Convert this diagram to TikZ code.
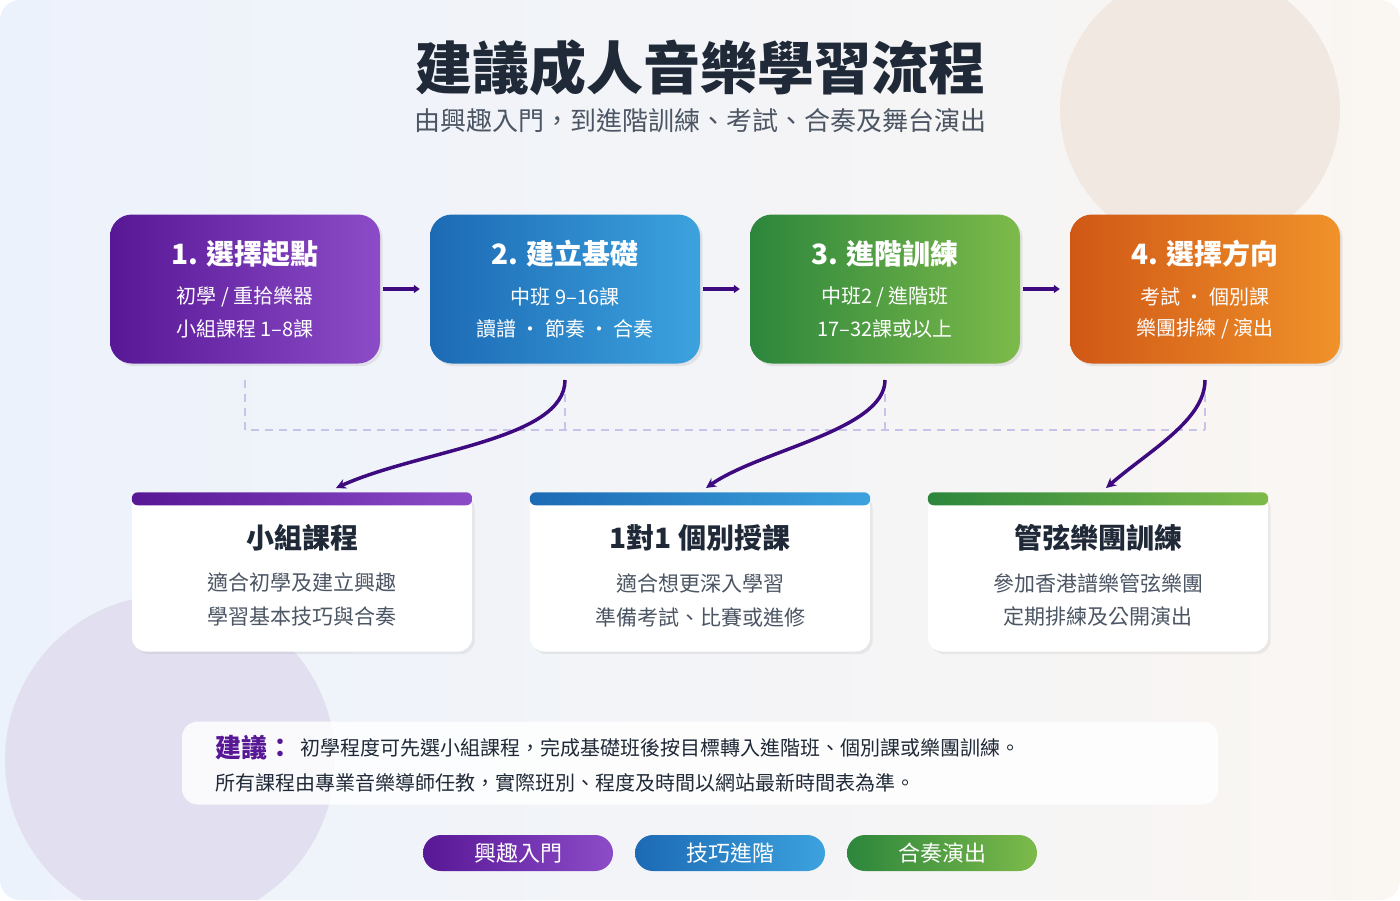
\documentclass[tikz,border=0pt]{standalone}
\usepackage{fontspec}
\setmainfont{Noto Sans CJK TC}
\usetikzlibrary{positioning,arrows.meta,shadows}
\definecolor{titledark}{RGB}{31,41,55}
\definecolor{subgray}{RGB}{75,85,99}
\definecolor{arrowpurple}{RGB}{61,10,128}
\definecolor{dashlav}{RGB}{200,195,235}
\definecolor{purpleA}{RGB}{88,24,150}
\definecolor{purpleB}{RGB}{140,76,200}
\definecolor{blueA}{RGB}{28,106,180}
\definecolor{blueB}{RGB}{60,162,222}
\definecolor{greenA}{RGB}{44,134,60}
\definecolor{greenB}{RGB}{125,186,74}
\definecolor{orangeA}{RGB}{208,88,22}
\definecolor{orangeB}{RGB}{240,146,42}
\definecolor{bgA}{RGB}{236,242,252}
\definecolor{bgB}{RGB}{250,246,242}
\definecolor{circA}{RGB}{240,232,225}
\definecolor{circB}{RGB}{226,224,240}

\begin{document}
\begin{tikzpicture}[x=1pt, y=-1pt,
        stagebox/.style={rounded corners=22pt, minimum width=270pt, minimum height=149pt, text=white, align=center, drop shadow={opacity=0.15}},
        card/.style={rounded corners=14pt, fill=white, minimum width=340pt, minimum height=159pt, align=center, drop shadow={opacity=0.12}},
        pill/.style={rounded corners=18pt, minimum width=190pt, minimum height=36pt, text=white, font=\fontsize{22}{24}\selectfont},
        link/.style={-{Triangle[length=6pt,width=8pt]}, line width=3.5pt, color=arrowpurple, shorten <=3pt, shorten >=10pt},
        curve/.style={-{Stealth[length=10pt,width=10pt]}, line width=3.5pt, color=arrowpurple},
        guide/.style={dashed, dash pattern=on 8pt off 6pt, line width=1.5pt, color=dashlav}
    ]
    % background
    \useasboundingbox (0,0) rectangle (1400,900);
    \begin{scope}
    \clip[rounded corners=20pt] (0,0) rectangle (1400,900);
    \shade[left color=bgA, right color=bgB] (0,0) rectangle (1400,900);
    \fill[circA] (1200,110) circle (140);
    \fill[circB] (170,760) circle (165);
    \end{scope}

    % title
    \node[text=titledark, font=\fontsize{57}{62}\selectfont\bfseries] (title) at (700,68) {建議成人音樂學習流程};
    \node[text=subgray, font=\fontsize{26}{30}\selectfont] (subtitle) at (700,121) {由興趣入門，到進階訓練、考試、合奏及舞台演出};

    % stages
    \node[stagebox, left color=purpleA, right color=purpleB] (s1) at (245,289) {};
    \node[stagebox, left color=blueA, right color=blueB] (s2) at (565,289) {};
    \node[stagebox, left color=greenA, right color=greenB] (s3) at (885,289) {};
    \node[stagebox, left color=orangeA, right color=orangeB] (s4) at (1205,289) {};
    \foreach \n/\t/\a/\b in {s1/{1. 選擇起點}/{初學 / 重拾樂器}/{小組課程 1–8課},
                             s2/{2. 建立基礎}/{中班 9–16課}/{讀譜 · 節奏 · 合奏},
                             s3/{3. 進階訓練}/{中班2 / 進階班}/{17–32課或以上},
                             s4/{4. 選擇方向}/{考試 · 個別課}/{樂團排練 / 演出}} {
        \node[text=white, font=\fontsize{28}{32}\selectfont\bfseries] at ([yshift=35]\n.center) {\t};
        \node[text=white, font=\fontsize{20}{24}\selectfont] at ([yshift=-8]\n.center) {\a};
        \node[text=white, font=\fontsize{20}{24}\selectfont] at ([yshift=-40]\n.center) {\b};
    }
    \draw[link] (s1) -- (s2);
    \draw[link] (s2) -- (s3);
    \draw[link] (s3) -- (s4);

    % dashed guide
    \coordinate (g1) at (245,380);
    \coordinate (g2) at (565,380);
    \coordinate (g3) at (885,380);
    \coordinate (g4) at (1205,380);
    \draw[guide] (g1) -- (245,430) -- (1205,430);
    \draw[guide] (g2) -- (565,430);
    \draw[guide] (g3) -- (885,430);
    \draw[guide] (g4) -- (1205,430);

    % cards
    \node[card] (c1) at (302,572) {};
    \node[card] (c2) at (700,572) {};
    \node[card] (c3) at (1098,572) {};
    \foreach \n/\ca/\cb in {c1/purpleA/purpleB, c2/blueA/blueB, c3/greenA/greenB}
        \shade[left color=\ca, right color=\cb, rounded corners=6pt] (\n.north west) rectangle ([yshift=-13]\n.north east);
    \foreach \n/\t/\a/\b in {c1/{小組課程}/{適合初學及建立興趣}/{學習基本技巧與合奏},
                             c2/{1對1 個別授課}/{適合想更深入學習}/{準備考試、比賽或進修},
                             c3/{管弦樂團訓練}/{參加香港譜樂管弦樂團}/{定期排練及公開演出}} {
        \node[text=titledark, font=\fontsize{28}{32}\selectfont\bfseries] at ([yshift=34]\n.center) {\t};
        \node[text=subgray, font=\fontsize{21}{24}\selectfont] at ([yshift=-11]\n.center) {\a};
        \node[text=subgray, font=\fontsize{21}{24}\selectfont] at ([yshift=-45]\n.center) {\b};
    }

    % curved arrows
    \coordinate (e1) at (336,488);
    \coordinate (e2) at (706,488);
    \coordinate (e3) at (1106,488);
    \draw[curve] (g2) .. controls (565,440) and (420,450) .. (e1);
    \draw[curve] (g3) .. controls (885,430) and (760,450) .. (e2);
    \draw[curve] (g4) .. controls (1205,420) and (1150,450) .. (e3);

    % note
    \node[fill=white, fill opacity=0.85, rounded corners=16pt, minimum width=1036pt, minimum height=83pt] (note) at (700,763) {};
    \node[anchor=west, text=purpleA, font=\fontsize{26}{30}\selectfont\bfseries] (notehead) at (212,748) {建議：};
    \node[anchor=west, text=titledark, font=\fontsize{20}{24}\selectfont] at (notehead.east) {初學程度可先選小組課程，完成基礎班後按目標轉入進階班、個別課或樂團訓練。};
    \node[anchor=west, text=titledark, font=\fontsize{20}{24}\selectfont] at (212,783) {所有課程由專業音樂導師任教，實際班別、程度及時間以網站最新時間表為準。};

    % legend pills
    \node[pill, left color=purpleA, right color=purpleB] (p1) at (518,853) {興趣入門};
    \node[pill, left color=blueA, right color=blueB] (p2) at (730,853) {技巧進階};
    \node[pill, left color=greenA, right color=greenB] (p3) at (942,853) {合奏演出};
\end{tikzpicture}
\end{document}
